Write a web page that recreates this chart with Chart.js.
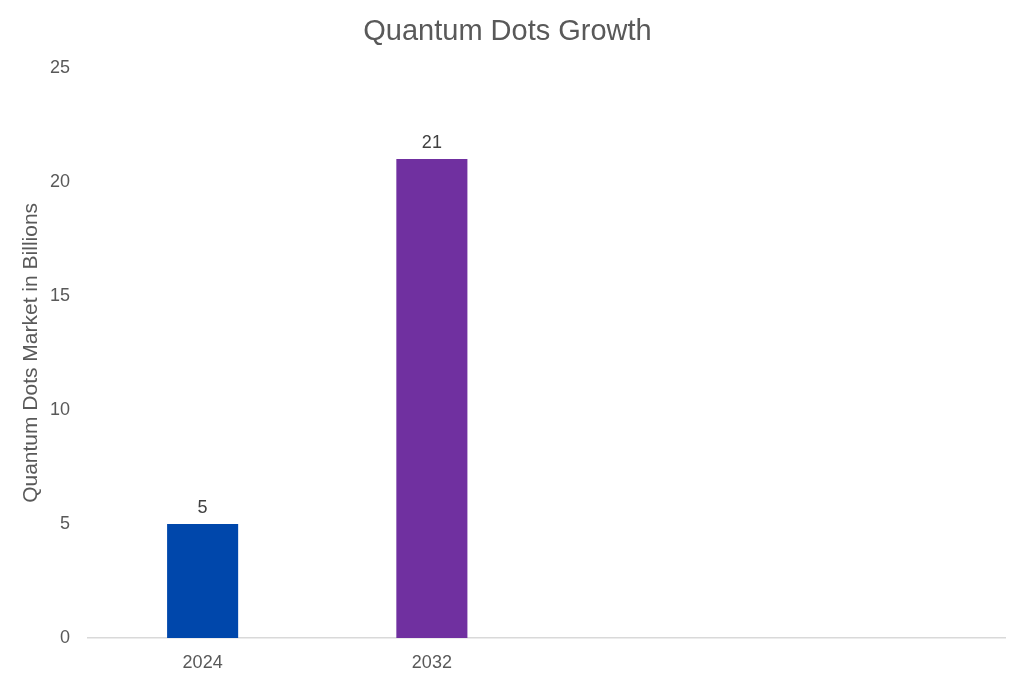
<!DOCTYPE html>
<html><head><meta charset="utf-8">
<script src="https://cdn.jsdelivr.net/npm/chart.js@4"></script>
<style>html,body{margin:0;padding:0;background:#fff}#wrap{width:1024px;height:682px}</style>
</head><body><div id="wrap"><canvas id="c" width="1024" height="682"></canvas></div>
<script>
const categories = ['2024', '2032', '', ''];
const marketValues = [5, 21, null, null];
const barColors = ['#0047AB', '#7030A0', '#0047AB', '#0047AB'];
const chartTitle = 'Quantum Dots Growth';
const yAxisTitle = 'Quantum Dots Market in Billions';

const FONT = "'Liberation Sans', Arial, sans-serif";
const valueLabels = {
  id: 'valueLabels',
  afterDatasetsDraw(chart) {
    const ctx = chart.ctx;
    const meta = chart.getDatasetMeta(0);
    ctx.save();
    ctx.font = '18px ' + FONT;
    ctx.fillStyle = '#404040';
    ctx.textAlign = 'center';
    ctx.textBaseline = 'bottom';
    meta.data.forEach((bar, i) => {
      const v = chart.data.datasets[0].data[i];
      if (v == null) return;
      ctx.fillText(String(v), bar.x, bar.y - 7);
    });
    ctx.restore();
  }
};

new Chart(document.getElementById('c'), {
  type: 'bar',
  data: {
    labels: categories,
    datasets: [{ data: marketValues, backgroundColor: barColors, barPercentage: 0.31, categoryPercentage: 1 }]
  },
  options: {
    responsive: false,
    animation: false,
    layout: { padding: { left: 10, right: 19, top: 0, bottom: 10 } },
    plugins: {
      legend: { display: false },
      tooltip: { enabled: false },
      title: { display: true, text: chartTitle, color: '#595959', font: { family: FONT, size: 29, weight: 'normal' }, padding: { top: 15, bottom: 18 } }
    },
    scales: {
      x: {
        grid: { display: false, drawTicks: false },
        border: { display: true, color: '#D9D9D9', width: 1.5 },
        ticks: { color: '#595959', font: { family: FONT, size: 18 }, padding: 14 },
        afterFit(s) { s.height = 34; }
      },
      y: {
        min: 0, max: 25,
        grid: { display: false, drawTicks: false },
        border: { display: false },
        ticks: { stepSize: 5, color: '#595959', font: { family: FONT, size: 18 }, padding: 18 },
        title: { display: true, text: yAxisTitle, color: '#595959', font: { family: FONT, size: 21 }, padding: { top: 9, bottom: 4 } },
        afterFit(s) { s.width = 78; }
      }
    }
  },
  plugins: [valueLabels]
});
</script>
</body></html>
